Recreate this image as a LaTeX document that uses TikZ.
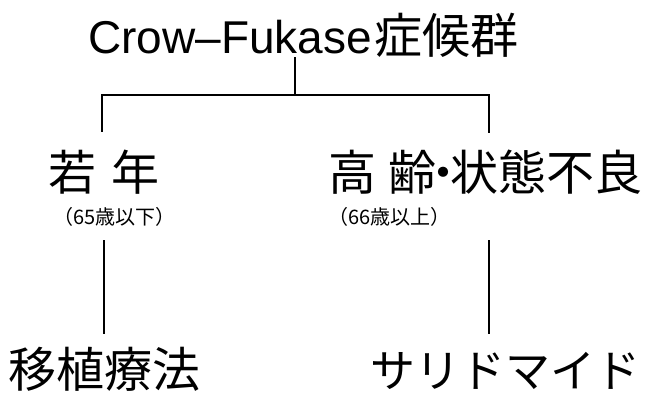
\documentclass[tikz,border=0pt]{standalone}
\usepackage{fontspec}
\newfontfamily\cjk{Noto Sans CJK JP}
\newfontfamily\lat{Liberation Sans}
\begin{document}
\begin{tikzpicture}[x=1pt,y=-1pt,
  conn/.style={line width=1.2pt, line cap=rect},
  big/.style={inner sep=0pt, font=\cjk\fontsize{48}{48}\selectfont},
  kana/.style={inner sep=0pt, font=\cjk\fontsize{45}{45}\selectfont},
  small/.style={inner sep=0pt, font=\cjk\fontsize{20}{20}\selectfont}]
\useasboundingbox (0,0) rectangle (652,392);
\fill[white] (0,0) rectangle (652,392);
% texts
\node[big, anchor=base west] (title) at (88,53) {{\lat\fontsize{46}{46}\selectfont Crow–Fukase}\hspace{3pt}症候群};
\node[big, anchor=base west] (young) at (48,190) {若\hspace{15pt}年};
\node[small, anchor=base west] (youngsub) at (53,224) {（65歳以下）};
\node[big, anchor=base west] (old) at (328,190) {高\hspace{12pt}齢\hspace{-17pt}・\hspace{-17pt}状態不良};
\node[small, anchor=base west] (oldsub) at (328,224) {（66歳以上）};
\node[big, anchor=base west] (transplant) at (8,387) {移植療法};
\node[kana, anchor=base west] (thal) at (370,387) {サリドマイド};
% connector points
\coordinate (tj) at (295,58);
\coordinate (hj) at (295,95);
\coordinate (lc) at (102,95);
\coordinate (rc) at (489,95);
\coordinate (le) at (102,131);
\coordinate (re) at (489,132);
\coordinate (lt) at (104,241);
\coordinate (lb) at (104,333);
\coordinate (rt) at (489,241);
\coordinate (rb) at (489,333);
\draw[conn] (tj) -- (hj);
\draw[conn] (le) -- (lc) -- (rc) -- (re);
\draw[conn] (lt) -- (lb);
\draw[conn] (rt) -- (rb);
\end{tikzpicture}
\end{document}
